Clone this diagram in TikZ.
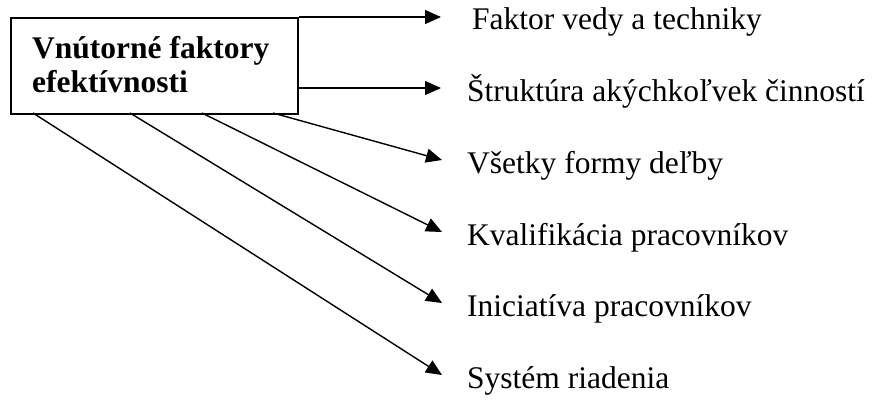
\documentclass[tikz,border=0pt]{standalone}
\usepackage{fontspec}
\setmainfont{Liberation Serif}
\usetikzlibrary{arrows.meta}
\begin{document}
\begin{tikzpicture}[x=1pt,y=-1pt,
  boxstyle/.style={draw=black,line width=1.6pt,minimum width=287pt,minimum height=96pt,inner sep=0pt,anchor=north west},
  boxtext/.style={font=\fontsize{31.5}{36}\selectfont\bfseries,inner sep=0pt,anchor=base west},
  lab/.style={font=\fontsize{31.5}{36}\selectfont,inner sep=0pt,anchor=base west},
  arr/.style={line width=1.4pt,-{Triangle[length=16pt,width=14pt]}}]
\useasboundingbox (0,0) rectangle (874,405);
\node[boxstyle] (b) at (10,17) {};
\node[boxtext] (ta) at (32,58) {Vnútorné faktory};
\node[boxtext] (tb) at (32,92) {efektívnosti};
\node[lab] (l1) at (472,29) {Faktor vedy a techniky};
\node[lab] (l2) at (467,101) {Štruktúra akýchkoľvek činností};
\node[lab] (l3) at (467,173) {Všetky formy deľby};
\node[lab] (l4) at (467,245) {Kvalifikácia pracovníkov};
\node[lab] (l5) at (467,316) {Iniciatíva pracovníkov};
\node[lab] (l6) at (467,388) {Systém riadenia};
\coordinate (s2) at (297,88);
\coordinate (s3) at (273,113);
\coordinate (s4) at (202,113);
\coordinate (s5) at (130,113);
\coordinate (s6) at (33,113);
\coordinate (e1) at (441,17);
\coordinate (e2) at (441,88);
\coordinate (e3) at (442,160);
\coordinate (e4) at (442,232);
\coordinate (e5) at (442,303);
\coordinate (e6) at (442,375);
\draw[arr] (b.north east) -- (e1);
\draw[arr] (s2) -- (e2);
\draw[arr] (s3) -- (e3);
\draw[arr] (s4) -- (e4);
\draw[arr] (s5) -- (e5);
\draw[arr] (s6) -- (e6);
\end{tikzpicture}
\end{document}
